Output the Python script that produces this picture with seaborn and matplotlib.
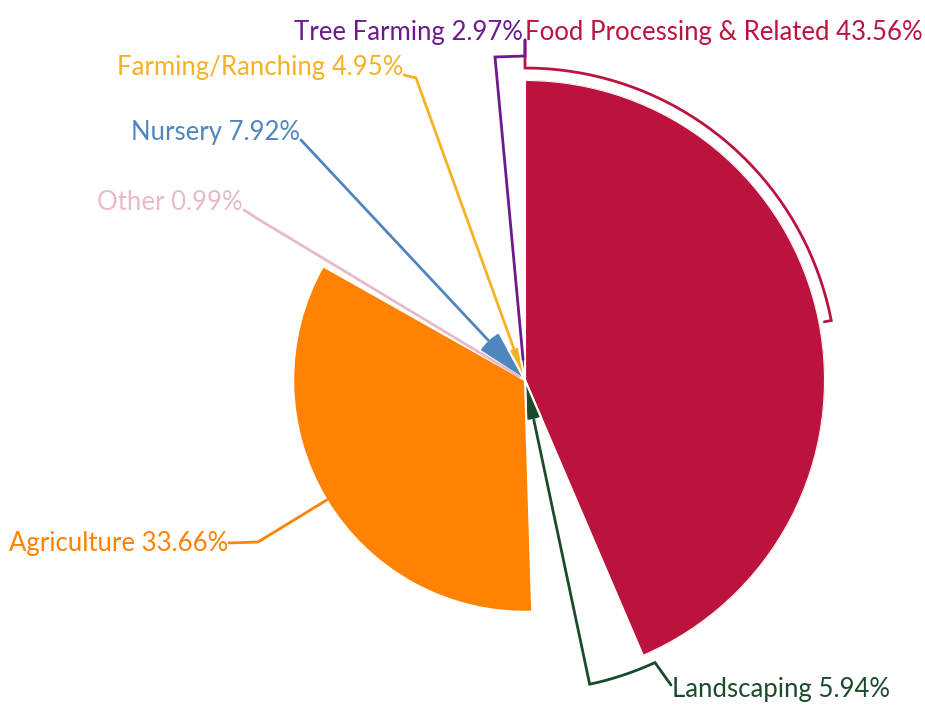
import numpy as np
import matplotlib
matplotlib.use("Agg")
import matplotlib.pyplot as plt
import seaborn as sns

# slices, clockwise from 12 o'clock
categories = ["Food Processing & Related", "Landscaping", "Agriculture", "Other",
              "Nursery", "Farming/Ranching", "Tree Farming"]
shares = [43.56, 5.94, 33.66, 0.99, 7.92, 4.95, 2.97]
colors = ["#BB133E", "#1B4A2C", "#FF8200", "#E8BAC6", "#5086BE", "#F5B223", "#6C1A8C"]

sns.set_style("white")
plt.rcParams["font.family"] = ["Lato", "DejaVu Sans"]

W, H = 925, 706
fig = plt.figure(figsize=(W / 100, H / 100), dpi=100)

# rose pie: angle = share, radius = share
cx, cy, rmax = 525, 380, 300
ax = fig.add_axes([(cx - rmax) / W, 1 - (cy + rmax) / H, 2 * rmax / W, 2 * rmax / H],
                  projection="polar")
ax.set_theta_zero_location("N")
ax.set_theta_direction(-1)
vals = np.array(shares)
widths = vals / vals.sum() * 2 * np.pi
starts = np.concatenate([[0], np.cumsum(widths)[:-1]])
mids = starts + widths / 2
ax.bar(mids, vals, width=widths, bottom=0, color=colors, edgecolor="white", linewidth=1.5)
ax.set_ylim(0, vals.max())
ax.axis("off")

# overlay in pixel coords for labels and label lines
ov = fig.add_axes([0, 0, 1, 1])
ov.set_xlim(0, W)
ov.set_ylim(H, 0)
ov.axis("off")


def px(a, r):
    return cx + np.sin(a) * r, cy - np.cos(a) * r


def arc(a0, a1, r):
    t = np.linspace(np.radians(a0), np.radians(a1), 40)
    return list(zip(cx + np.sin(t) * r, cy - np.cos(t) * r))


rpx = vals / vals.max() * rmax
anchors = [px(m, r) for m, r in zip(mids, rpx)]

label_pos = [(525, 40, "left"), (672, 697, "left"), (228, 551, "right"), (243, 210, "right"),
             (300, 140, "right"), (403, 75, "right"), (523, 40, "right")]
paths = [
    [(525, 40), (525, 68)] + arc(0, 79, 312) + [px(np.radians(79), 305)],
    [anchors[1]] + arc(168, 155.3, 311) + [(671, 685)],
    [(229, 543), (258, 542), anchors[2]],
    [(244, 210), (258, 219), anchors[3]],
    [(301, 140), anchors[4]],
    [(404, 75), (416, 78), anchors[5]],
    [(525, 40), (525, 56), (495, 57), anchors[6]],
]

for name, v, c, (tx, ty, ha), path in zip(categories, shares, colors, label_pos, paths):
    xs, ys = zip(*path)
    ov.plot(xs, ys, color=c, lw=2, solid_joinstyle="miter")
    ov.text(tx, ty, f"{name} {v:.2f}%", color=c, ha=ha, va="baseline", fontsize=18.5)

fig.savefig("out.png", dpi=100)
